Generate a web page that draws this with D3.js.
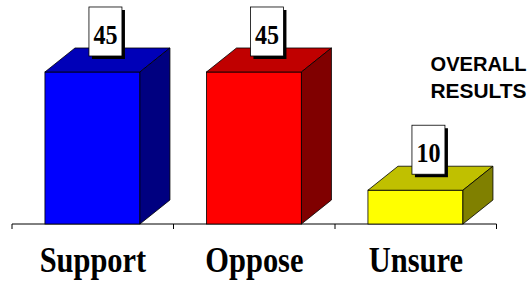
<!DOCTYPE html>
<html><head><meta charset="utf-8">
<script src="https://cdn.jsdelivr.net/npm/d3@7"></script>
<style>html,body{margin:0;padding:0;background:#fff;}svg{display:block;}</style>
</head><body>
<svg id="chart" width="531" height="281"></svg>
<script>
const categories = ["Support", "Oppose", "Unsure"];
const values = [45, 45, 10];
const frontColors = ["#0000FF", "#FF0000", "#FFFF00"];
const topColors = ["#0000B8", "#C00000", "#C0C000"];
const sideColors = ["#000080", "#800000", "#808000"];
const titleLines = ["OVERALL", "RESULTS"];

const svg = d3.select("#chart");
const x = d3.scaleBand().domain(categories).range([12, 496.5]).padding(0);
const y = d3.scaleLinear().domain([0, 50]).range([224, 55.1]);
const bw = x.bandwidth();
const gap = bw * 0.204, fw = bw * 0.588, dx = bw * 0.186, dy = 24;

// axis
const axisG = svg.append("g");
axisG.append("line").attr("x1", x.range()[0]).attr("x2", x.range()[1])
  .attr("y1", y(0)).attr("y2", y(0)).attr("stroke", "#000").attr("stroke-width", 1);
const ticks = categories.map(c => x(c)).concat([x.range()[1]]);
axisG.selectAll(".tk").data(ticks).join("line")
  .attr("x1", d => d).attr("x2", d => d).attr("y1", y(0)).attr("y2", y(0) + 5)
  .attr("stroke", "#000").attr("stroke-width", 1);

const bars = svg.append("g").selectAll("g").data(categories).join("g");
bars.each(function(c, i) {
  const g = d3.select(this);
  const x0 = x(c) + gap, x1 = x0 + fw, yt = y(values[i]), yb = y(0);
  g.append("rect").attr("x", x0).attr("y", yt).attr("width", fw).attr("height", yb - yt)
    .attr("fill", frontColors[i]).attr("stroke", "#000").attr("stroke-width", 0.8);
  g.append("path").attr("d", `M${x0},${yt}L${x0+dx},${yt-dy}L${x1+dx},${yt-dy}L${x1},${yt}Z`)
    .attr("fill", topColors[i]).attr("stroke", "#000").attr("stroke-width", 0.8).attr("stroke-linejoin", "round");
  g.append("path").attr("d", `M${x1},${yt}L${x1+dx},${yt-dy}L${x1+dx},${yb-dy}L${x1},${yb}Z`)
    .attr("fill", sideColors[i]).attr("stroke", "#000").attr("stroke-width", 0.8).attr("stroke-linejoin", "round");
  // value label box
  const bx = x0 + 44, bwid = 33, btop = yt - 65, bh = 49;
  g.append("rect").attr("x", bx + 3).attr("y", btop + 3).attr("width", bwid).attr("height", bh).attr("fill", "#000");
  g.append("rect").attr("x", bx).attr("y", btop).attr("width", bwid).attr("height", bh)
    .attr("fill", "#fff").attr("stroke", "#000").attr("stroke-width", 0.8);
  const cx = bx + bwid / 2;
  g.append("text").attr("transform", `translate(${cx},${yt - 28}) scale(0.86,1)`)
    .attr("text-anchor", "middle").attr("font-family", "'Liberation Serif','Times New Roman',serif")
    .attr("font-weight", "bold").attr("font-size", 28).attr("fill", "#000").text(values[i]);
  // category label
  g.append("text").attr("transform", `translate(${x0 + fw / 2 + 0.5},${271.7}) scale(0.87,1)`)
    .attr("text-anchor", "middle").attr("font-family", "'Liberation Serif','Times New Roman',serif")
    .attr("font-weight", "bold").attr("font-size", 35).attr("fill", "#000").text(c);
});

svg.append("g").selectAll("text").data(titleLines).join("text")
  .attr("x", 478.5).attr("y", (d, i) => 71 + i * 26.5)
  .attr("text-anchor", "middle").attr("font-family", "'Liberation Sans',Arial,sans-serif")
  .attr("font-weight", "bold").attr("font-size", 19.5).attr("fill", "#000")
  .attr("textLength", 96).attr("lengthAdjust", "spacingAndGlyphs")
  .text(d => d);
</script>
</body></html>
